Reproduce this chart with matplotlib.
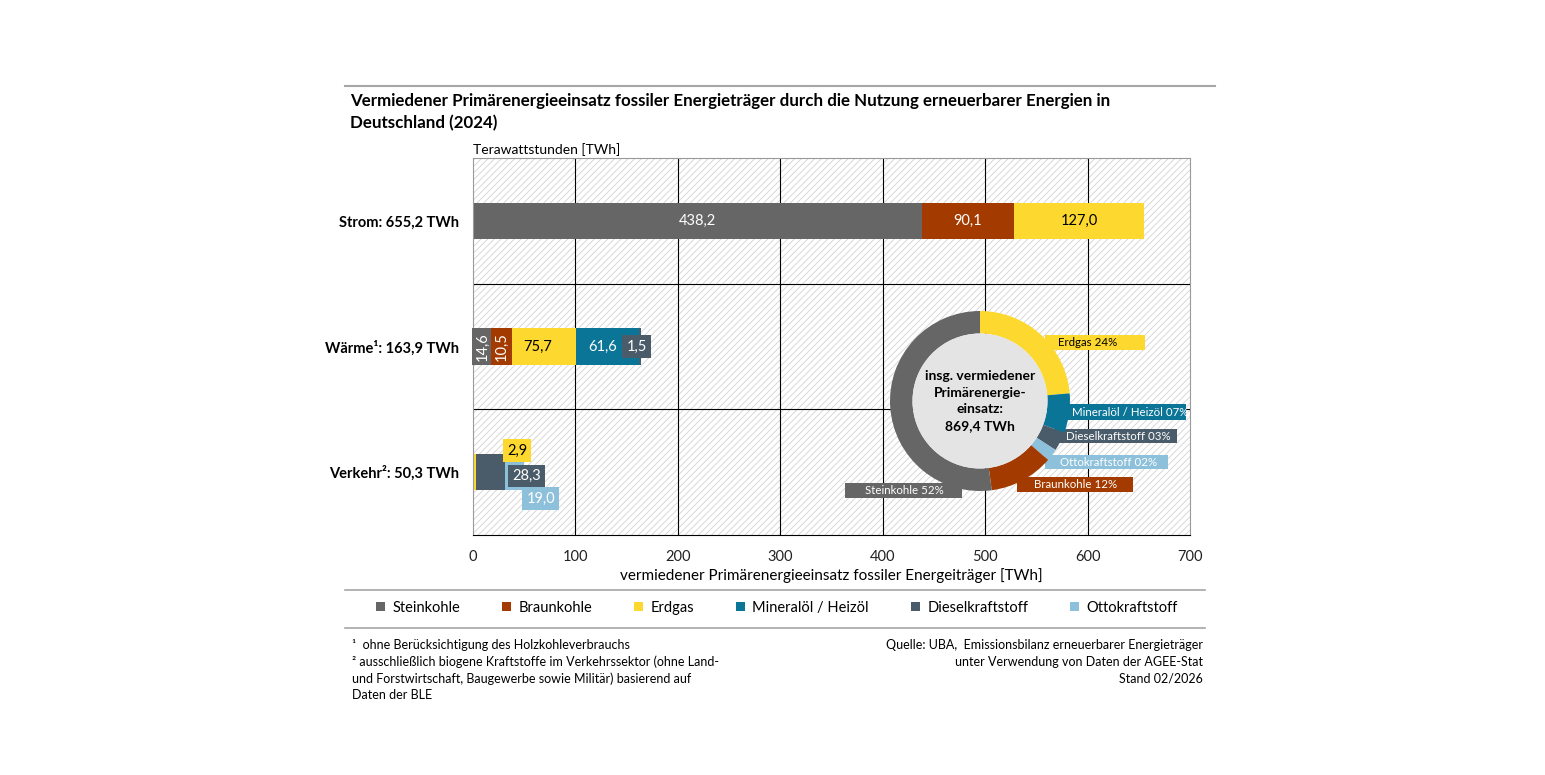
import matplotlib.pyplot as plt
import numpy as np
from matplotlib.patches import Rectangle, Circle, Patch
from matplotlib.lines import Line2D

plt.rcParams['font.family'] = ['Lato', 'DejaVu Sans']
plt.rcParams['hatch.linewidth'] = 0.6

# data
categories = ['Strom: 655,2 TWh', 'Wärme¹: 163,9 TWh', 'Verkehr²: 50,3 TWh']
carriers = ['Steinkohle', 'Braunkohle', 'Erdgas', 'Mineralöl / Heizöl', 'Dieselkraftstoff', 'Ottokraftstoff']
colors = ['#666666', '#a33a00', '#fdd82e', '#0b7597', '#4a5c69', '#8dc0da']
strom = [438.2, 90.1, 127.0, 0, 0, 0]
waerme = [14.6, 10.5, 75.7, 61.6, 1.5, 0]
verkehr = [0, 0, 2.9, 0, 28.3, 19.0]
donut_order = [2, 3, 4, 5, 1, 0]
donut_labels = ['Erdgas 24%', 'Mineralöl / Heizöl 07%', 'Dieselkraftstoff 03%',
                'Ottokraftstoff 02%', 'Braunkohle 12%', 'Steinkohle 52%']
total_label = 'insg. vermiedener\nPrimärenergie-\neinsatz:\n869,4 TWh'

W, H = 1545, 775
fig = plt.figure(figsize=(W / 100, H / 100), dpi=100)
ax = fig.add_axes([473 / W, 1 - 535 / H, 717 / W, 377 / H])

def px(x):  # figure pixel x -> data
    return (x - 473) / 717 * 700

def py(y):
    return (535 - y) / 377 * 3

# hatched background
ax.add_patch(Rectangle((0, 0), 700, 3, facecolor='white', edgecolor='#d2d2d2',
                       hatch='/////', lw=0, zorder=0))
for xv in range(100, 700, 100):
    ax.axvline(xv, color='black', lw=0.8, zorder=1)
for yv in [1, 2]:
    ax.axhline(yv, color='black', lw=0.8, zorder=1)

rows = [strom, waerme, verkehr]
ycent = [2.5, 1.5, 0.5]
bh = 0.29
for r, yc in zip(rows, ycent):
    left = 0
    for i, v in enumerate(r):
        if v > 0:
            ax.barh(yc, v, left=left, height=bh, color=colors[i], zorder=2)
        left += v

def fmt(v):
    return f'{v:.1f}'.replace('.', ',')

# Strom labels
left = 0
for i in range(3):
    ax.text(left + strom[i] / 2, 2.5, fmt(strom[i]), ha='center', va='center',
            fontsize=10.5, color='black' if i == 2 else 'white', zorder=3)
    left += strom[i]

# Waerme labels
ax.text(9, 1.5, fmt(waerme[0]), rotation=90, ha='center', va='center', fontsize=10.5,
        color='white', zorder=3,
        bbox=dict(boxstyle='square,pad=0.25', fc=colors[0], ec='none'))
ax.text(28, 1.5, fmt(waerme[1]), rotation=90, ha='center', va='center', fontsize=10.5,
        color='white', zorder=3,
        bbox=dict(boxstyle='square,pad=0.25', fc=colors[1], ec='none'))
ax.text(sum(waerme[:2]) + waerme[2] / 2, 1.5, fmt(waerme[2]), ha='center', va='center',
        fontsize=10.5, color='black', zorder=3)
ax.text(sum(waerme[:3]) + waerme[3] / 2 - 5, 1.5, fmt(waerme[3]), ha='center', va='center',
        fontsize=10.5, color='white', zorder=3)
ax.text(sum(waerme[:5]) - 4, 1.5, fmt(waerme[4]), ha='center', va='center', fontsize=10.5,
        color='white', zorder=3,
        bbox=dict(boxstyle='square,pad=0.3', fc=colors[4], ec='none'))

# Verkehr labels
ax.text(43, 0.5 + 0.17, fmt(verkehr[2]), ha='center', va='center', fontsize=10.5,
        color='black', zorder=3, bbox=dict(boxstyle='square,pad=0.3', fc=colors[2], ec='none'))
ax.text(52, 0.5 - 0.03, fmt(verkehr[4]), ha='center', va='center', fontsize=10.5,
        color='white', zorder=3, bbox=dict(boxstyle='square,pad=0.3', fc=colors[4], ec='none'))
ax.text(66, 0.5 - 0.21, fmt(verkehr[5]), ha='center', va='center', fontsize=10.5,
        color='white', zorder=3, bbox=dict(boxstyle='square,pad=0.3', fc=colors[5], ec='none'))

ax.set_xlim(0, 700)
ax.set_ylim(0, 3)
ax.set_xticks(range(0, 701, 100))
ax.set_yticks(ycent)
ax.set_yticklabels(categories, fontweight='bold', fontsize=10.5)
ax.tick_params(axis='both', length=0)
ax.tick_params(axis='x', pad=11, labelsize=10.5, labelcolor='#222222')
ax.tick_params(axis='y', pad=10)
ax.set_xlabel('vermiedener Primärenergieeinsatz fossiler Energeiträger [TWh]', fontsize=11,
              labelpad=3)
for s in ['top', 'right', 'left']:
    ax.spines[s].set_color('#9a9a9a')
ax.spines['bottom'].set_color('black')

# donut label boxes (behind donut): x0, x1, y0, y1, text x, text colour
boxes = [(1045, 1145, 335, 350, 1058, 'black'),
         (1050, 1186, 404, 420, 1072, 'white'),
         (1050, 1177, 429, 443, 1066, 'white'),
         (1045, 1168, 455, 469, 1060, 'white'),
         (1017, 1133, 477, 492, 1034, 'white'),
         (845, 962, 483, 498, 865, 'white')]
for (x0, x1, y0, y1, tx, tc), idx, lab in zip(boxes, donut_order, donut_labels):
    ax.add_patch(Rectangle((px(x0), py(y1)), px(x1) - px(x0), py(y0) - py(y1),
                           facecolor=colors[idx], edgecolor='none', zorder=4))
    ax.text(px(tx), py((y0 + y1) / 2), lab, ha='left', va='center', fontsize=8.3,
            color=tc, zorder=5)

# donut
totals = np.array(strom) + np.array(waerme) + np.array(verkehr)
cx, cy, r = 980, 401, 90
ax2 = fig.add_axes([(cx - r) / W, 1 - (cy + r) / H, 2 * r / W, 2 * r / H])
ax2.pie(totals[donut_order], colors=[colors[i] for i in donut_order], startangle=90,
        counterclock=False, radius=1, wedgeprops=dict(width=0.25, lw=0))
ax2.add_patch(Circle((0, 0), 0.75, facecolor='#e4e4e4', edgecolor='none'))
ax2.text(0, 0, total_label, ha='center', va='center', fontsize=10, fontweight='bold',
         linespacing=1.45)
ax2.set_xlim(-1, 1)
ax2.set_ylim(-1, 1)
ax2.axis('off')

# title and texts
fig.text(350 / W, 1 - 112 / H, 'Vermiedener Primärenergieeinsatz fossiler Energieträger durch die '
         'Nutzung erneuerbarer Energien in\nDeutschland (2024)', fontsize=12.2, fontweight='bold',
         va='center', ha='left', linespacing=1.5)
fig.text(473 / W, 1 - 150 / H, 'Terawattstunden [TWh]', fontsize=10, va='center')

for yy, x1 in [(86, 1215), (590, 1205), (628, 1205)]:
    fig.add_artist(Line2D([345 / W, x1 / W], [1 - yy / H, 1 - yy / H], color='#a6a6a6',
                          lw=1.5 if yy == 86 else 1.2))

handles = [Patch(facecolor=c, edgecolor='none') for c in colors]
fig.legend(handles, carriers, loc='center', bbox_to_anchor=(777 / W, 1 - 608 / H), ncol=6,
           frameon=False, fontsize=10.5, handlelength=0.6, handleheight=0.6,
           handletextpad=0.5, columnspacing=2.9)

foot_l = ['¹  ohne Berücksichtigung des Holzkohleverbrauchs',
          '² ausschließlich biogene Kraftstoffe im Verkehrssektor (ohne Land-',
          'und Forstwirtschaft, Baugewerbe sowie Militär) basierend auf',
          'Daten der BLE']
foot_r = ['Quelle: UBA,  Emissionsbilanz erneuerbarer Energieträger',
          'unter Verwendung von Daten der AGEE-Stat',
          'Stand 02/2026']
for k, t in enumerate(foot_l):
    fig.text(352 / W, 1 - (645 + 16.7 * k) / H, t, fontsize=9, va='center')
for k, t in enumerate(foot_r):
    fig.text(1203 / W, 1 - (645 + 16.7 * k) / H, t, fontsize=9, va='center', ha='right')

fig.savefig('out.png', dpi=100, facecolor='white')
